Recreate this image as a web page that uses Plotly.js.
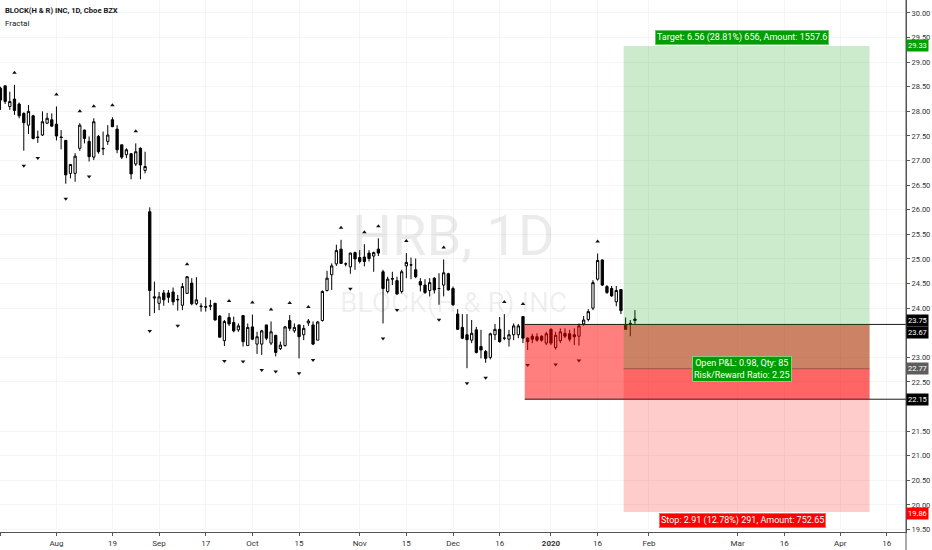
<!DOCTYPE html>
<html>
<head>
<meta charset="utf-8">
<script src="https://cdn.plot.ly/plotly-3.0.1.min.js"></script>
<style>
html,body{margin:0;padding:0;background:#fff;}
#chart{width:932px;height:550px;}
</style>
</head>
<body>
<div id="chart"></div>
<script>
// ---------- DATA ----------
const dates = [
'2019-07-16','2019-07-17','2019-07-18','2019-07-19','2019-07-22','2019-07-23','2019-07-24','2019-07-25','2019-07-26','2019-07-29','2019-07-30','2019-07-31',
'2019-08-01','2019-08-02','2019-08-05','2019-08-06','2019-08-07','2019-08-08','2019-08-09','2019-08-12','2019-08-13','2019-08-14','2019-08-15','2019-08-16','2019-08-19','2019-08-20','2019-08-21','2019-08-22','2019-08-23','2019-08-26','2019-08-27','2019-08-28','2019-08-29','2019-08-30',
'2019-09-03','2019-09-04','2019-09-05','2019-09-06','2019-09-09','2019-09-10','2019-09-11','2019-09-12','2019-09-13','2019-09-16','2019-09-17','2019-09-18','2019-09-19','2019-09-20','2019-09-23','2019-09-24','2019-09-25','2019-09-26','2019-09-27','2019-09-30',
'2019-10-01','2019-10-02','2019-10-03','2019-10-04','2019-10-07','2019-10-08','2019-10-09','2019-10-10','2019-10-11','2019-10-14','2019-10-15','2019-10-16','2019-10-17','2019-10-18','2019-10-21','2019-10-22','2019-10-23','2019-10-24','2019-10-25','2019-10-28','2019-10-29','2019-10-30','2019-10-31',
'2019-11-01','2019-11-04','2019-11-05','2019-11-06','2019-11-07','2019-11-08','2019-11-11','2019-11-12','2019-11-13','2019-11-14','2019-11-15','2019-11-18','2019-11-19','2019-11-20','2019-11-21','2019-11-22','2019-11-25','2019-11-26','2019-11-27','2019-11-29',
'2019-12-02','2019-12-03','2019-12-04','2019-12-05','2019-12-06','2019-12-09','2019-12-10','2019-12-11','2019-12-12','2019-12-13','2019-12-16','2019-12-17','2019-12-18','2019-12-19','2019-12-20','2019-12-23','2019-12-24','2019-12-26','2019-12-27','2019-12-30','2019-12-31',
'2020-01-02','2020-01-03','2020-01-06','2020-01-07','2020-01-08','2020-01-09','2020-01-10','2020-01-13','2020-01-14','2020-01-15','2020-01-16','2020-01-17','2020-01-21','2020-01-22','2020-01-23','2020-01-24','2020-01-27','2020-01-28','2020-01-29'
];

const open = [
28.47,28.52,28.10,28.25,28.15,27.96,27.72,27.91,27.48,27.52,
27.76,27.83,27.74,27.48,27.41,26.74,26.74,27.25,27.62,27.39,
27.07,27.49,27.25,27.39,27.83,27.64,27.32,27.12,27.14,26.93,
27.25,26.80,25.96,24.23,24.10,24.31,24.31,24.33,24.18,24.06,
24.30,24.51,24.09,24.03,24.02,24.04,24.10,23.84,23.34,23.81,
23.71,23.56,23.85,23.24,23.62,23.27,23.27,23.66,23.29,23.45,
23.18,23.24,23.75,23.54,23.66,23.46,23.70,23.66,23.35,23.75,
24.36,24.68,24.90,25.20,24.90,24.84,25.13,25.03,25.04,25.12,
25.06,25.20,24.74,24.34,24.59,24.56,24.34,24.86,24.88,24.78,
24.54,24.47,24.36,24.61,24.40,24.47,24.70,24.40,23.88,23.61,
23.46,23.35,23.56,23.22,23.12,23.00,23.46,23.57,23.39,23.37,
23.46,23.46,23.83,23.39,23.43,23.42,23.43,23.29,23.57,23.20,
23.34,23.49,23.48,23.46,23.43,23.68,23.77,24.00,24.59,24.98,
24.44,24.40,24.13,24.38,23.66,23.68,23.78
];
const high = [
28.50,28.52,28.40,28.54,28.18,27.98,28.13,27.93,27.61,28.00,
27.97,27.96,28.10,27.62,27.42,26.93,27.15,27.76,27.63,27.49,
27.86,27.52,27.59,27.72,27.88,27.72,27.33,27.25,27.15,27.35,
27.27,27.18,26.05,24.54,24.33,24.37,24.37,24.42,24.27,24.51,
24.65,24.61,24.63,24.10,24.22,24.17,24.10,23.86,23.76,23.90,
23.83,23.69,23.85,23.69,23.87,23.52,23.56,23.66,23.73,23.45,
23.32,23.64,23.86,23.69,23.66,23.66,23.78,23.73,23.74,24.36,
24.76,24.91,25.29,25.39,24.93,25.13,25.15,25.18,25.30,25.18,
25.15,25.42,24.78,24.64,24.74,24.64,24.78,25.12,25.03,25.01,
24.61,24.59,24.61,24.63,24.71,24.99,24.72,24.44,23.98,23.88,
23.88,23.76,23.62,23.56,23.15,23.50,23.68,23.82,23.88,23.56,
23.69,23.68,23.84,23.41,23.48,23.49,23.45,23.52,23.59,23.52,
23.59,23.59,23.56,23.59,23.69,23.84,23.98,24.57,25.11,24.99,
24.47,24.45,24.45,24.38,23.81,23.76,23.96
];
const low = [
28.03,28.15,28.03,27.93,27.86,27.20,27.54,27.43,27.36,27.50,
27.74,27.69,27.41,27.23,26.53,26.64,26.57,27.20,27.35,26.98,
27.01,27.14,27.11,27.32,27.68,27.15,27.03,27.05,26.62,26.89,
26.62,26.74,23.84,23.90,23.96,24.05,24.11,24.06,23.95,23.96,
24.29,24.06,24.06,23.93,23.93,23.96,23.75,23.41,23.23,23.64,
23.51,23.52,23.22,23.24,23.35,23.07,23.05,23.35,23.25,23.02,
23.15,23.22,23.54,23.50,22.98,23.35,23.64,23.25,23.35,23.73,
24.34,24.37,24.86,24.90,24.85,24.70,24.78,24.91,24.85,24.95,
24.74,25.06,23.69,24.30,24.47,24.27,24.30,24.61,24.59,24.61,
24.34,24.29,24.24,24.30,24.07,24.24,24.36,24.05,23.56,23.37,
22.78,23.29,23.08,22.98,22.89,22.96,23.35,23.30,23.35,23.22,
23.35,23.39,23.29,23.15,23.29,23.32,23.32,23.25,23.25,23.16,
23.29,23.39,23.32,23.25,23.24,23.64,23.73,23.96,24.56,24.45,
24.29,24.23,24.04,23.88,23.56,23.43,23.68
];
const close = [
28.23,28.20,28.20,28.02,27.91,27.77,28.00,27.45,27.47,27.79,
27.86,27.70,27.50,27.47,26.71,26.92,27.09,27.72,27.45,27.08,
27.79,27.18,27.24,27.52,27.69,27.22,27.07,27.22,26.73,27.18,
26.91,26.88,24.36,24.21,24.23,24.17,24.22,24.13,24.17,24.44,
24.64,24.09,24.17,24.04,24.03,24.05,23.76,23.41,23.73,23.68,
23.54,23.64,23.32,23.61,23.37,23.42,23.54,23.39,23.52,23.10,
23.25,23.62,23.59,23.61,23.42,23.59,23.74,23.27,23.72,24.34,
24.61,24.86,25.17,24.91,24.90,25.12,25.00,24.95,24.95,25.01,
25.13,25.12,24.40,24.59,24.60,24.29,24.74,24.93,24.88,24.64,
24.47,24.32,24.52,24.37,24.40,24.72,24.37,24.07,23.57,23.39,
23.36,23.49,23.10,23.15,22.98,23.48,23.57,23.32,23.39,23.46,
23.64,23.64,23.39,23.32,23.37,23.35,23.35,23.48,23.29,23.45,
23.52,23.43,23.37,23.42,23.64,23.76,23.93,24.52,24.97,24.47,
24.32,24.25,24.36,23.95,23.57,23.69,23.75
];

// Williams fractal bars (indices into the series)
const fractalUp   = [3,12,17,20,24,29,40,49,54,58,62,66,73,78,81,87,95,108,112,128];
const fractalDown = [5,8,14,19,32,38,48,52,56,59,64,67,75,82,85,94,100,104,113,119,124];

// x-axis tick labels
const tickDates  = ['2019-07-16','2019-08-01','2019-08-19','2019-09-03','2019-09-17','2019-10-01','2019-10-15','2019-11-01','2019-11-15','2019-12-02','2019-12-16','2020-01-02','2020-01-16','2020-02-03','2020-03-02','2020-03-16','2020-04-01','2020-04-16'];
const tickLabels = ['16','Aug','19','Sep','17','Oct','15','Nov','15','Dec','16','<b>2020</b>','16','Feb','Mar','16','Apr','16'];

// price scale ticks shown (23.50 and 22.00 sit under the price labels)
const priceTicks = [30.0,29.5,29.0,28.5,28.0,27.5,27.0,26.5,26.0,25.5,25.0,24.5,24.0,23.0,22.5,21.5,21.0,20.5,20.0,19.5];

const holidays = ['2019-09-02','2019-11-28','2019-12-25','2020-01-01','2020-01-20','2020-02-17','2020-04-10'];

// Long position tool
const entryPrice  = 22.77;
const targetPrice = 29.33;
const stopPrice   = 19.86;
const positionStart = '2020-01-24 14:00';
const positionEnd   = '2020-04-09 07:00';
const positionMid   = '2020-03-03 00:00';
const targetText = 'Target: 6.56 (28.81%) 656, Amount: 1557.6';
const stopText   = 'Stop: 2.91 (12.78%) 291, Amount: 752.65';
const pnlText    = 'Open P&amp;L: 0.98, Qty: 85<br>Risk/Reward Ratio: 2.25';

// Red rectangle zone
const zoneStart = '2019-12-23 09:00';
const zoneTop = 23.67;
const zoneBottom = 22.15;

// price labels on the right scale
const axisLabels = [
  {price: 29.33, color: '#00a000', shift: 0},
  {price: 23.75, color: '#000000', shift: 0},
  {price: 23.67, color: '#000000', shift: -8},
  {price: 22.77, color: '#5d5d5d', shift: 0},
  {price: 22.15, color: '#000000', shift: 0},
  {price: 19.86, color: '#ff0000', shift: -2}
];

// ---------- LAYOUT ----------
const xRange = ['2019-07-15 21:36', '2020-04-22 02:24'];
const yRange = [19.451, 30.264];
const plotH = 532;
const pxPerUnit = plotH / (yRange[1] - yRange[0]);
const FONT = "Roboto, 'Liberation Sans', Arial, sans-serif";

const candles = {
  type: 'candlestick',
  x: dates, open: open, high: high, low: low, close: close,
  increasing: {line: {color: '#000', width: 1}, fillcolor: '#ffffff'},
  decreasing: {line: {color: '#000', width: 1}, fillcolor: '#000000'},
  whiskerwidth: 0,
  width: 0.62 * 86400000,
  hoverinfo: 'skip',
  showlegend: false
};

const upTrace = {
  type: 'scatter', mode: 'markers',
  x: fractalUp.map(i => dates[i]),
  y: fractalUp.map(i => high[i] + 12 / pxPerUnit),
  marker: {symbol: 'triangle-up', size: 4, color: '#111'},
  hoverinfo: 'skip', showlegend: false
};
const downTrace = {
  type: 'scatter', mode: 'markers',
  x: fractalDown.map(i => dates[i]),
  y: fractalDown.map(i => low[i] - 15 / pxPerUnit),
  marker: {symbol: 'triangle-down', size: 4, color: '#111'},
  hoverinfo: 'skip', showlegend: false
};

const shapes = [
  {type:'rect', xref:'x', yref:'y', x0: zoneStart, x1: positionEnd, y0: zoneBottom, y1: zoneTop,
   fillcolor:'rgba(255,0,0,0.5)', line:{width:0}, layer:'above'},
  {type:'line', xref:'x', yref:'y', x0: zoneStart, x1: xRange[1], y0: zoneTop, y1: zoneTop,
   line:{color:'#1a1a1a', width:1}, layer:'above'},
  {type:'line', xref:'x', yref:'y', x0: zoneStart, x1: xRange[1], y0: zoneBottom, y1: zoneBottom,
   line:{color:'#1a1a1a', width:1}, layer:'above'},
  {type:'rect', xref:'x', yref:'y', x0: positionStart, x1: positionEnd, y0: entryPrice, y1: targetPrice,
   fillcolor:'rgba(0,150,0,0.2)', line:{width:0}, layer:'above'},
  {type:'rect', xref:'x', yref:'y', x0: positionStart, x1: positionEnd, y0: stopPrice, y1: entryPrice,
   fillcolor:'rgba(255,0,0,0.2)', line:{width:0}, layer:'above'},
  {type:'line', xref:'x', yref:'y', x0: positionStart, x1: positionEnd, y0: entryPrice, y1: entryPrice,
   line:{color:'rgba(110,60,50,0.55)', width:1}, layer:'above'},
  {type:'line', xref:'paper', yref:'paper', x0: 1, x1: 1, y0: -0.04, y1: 1,
   line:{color:'#555', width:1}, layer:'above'}
];

const annotations = [
  {xref:'paper', yref:'paper', x:0.5, y:0.556, text:'HRB, 1D', showarrow:false,
   font:{family:"Roboto, sans-serif", size:56, color:'rgba(0,0,0,0.08)'}},
  {xref:'paper', yref:'paper', x:0.5, y:0.432, text:'BLOCK(H &amp; R) INC', showarrow:false,
   font:{family:"Roboto, sans-serif", size:28, color:'rgba(0,0,0,0.08)'}},
  {xref:'paper', yref:'paper', x:0, y:1, xanchor:'left', yanchor:'top', xshift:3, yshift:-4,
   text:'<b>BLOCK(H &amp; R) INC, 1D, Cboe BZX</b>', showarrow:false, align:'left',
   font:{family:FONT, size:7.6, color:'#131722'}},
  {xref:'paper', yref:'paper', x:0, y:1, xanchor:'left', yanchor:'top', xshift:3, yshift:-17,
   text:'Fractal', showarrow:false, align:'left',
   font:{family:FONT, size:8, color:'#131722'}},
  {xref:'x', yref:'y', x: positionMid, y: targetPrice, yanchor:'bottom', yshift:1,
   text: targetText, showarrow:false, bgcolor:'#009e00', bordercolor:'#66c466', borderwidth:1, borderpad:1,
   font:{family:FONT, size:9, color:'#fff'}},
  {xref:'x', yref:'y', x: positionMid, y: stopPrice, yanchor:'top', yshift:-1,
   text: stopText, showarrow:false, bgcolor:'#ff0000', bordercolor:'#ff6666', borderwidth:1, borderpad:1,
   font:{family:FONT, size:9, color:'#fff'}},
  {xref:'x', yref:'y', x: positionMid, y: entryPrice, yanchor:'middle',
   text: pnlText, showarrow:false, bgcolor:'#009e00', bordercolor:'#7fd07f', borderwidth:1, borderpad:1,
   font:{family:FONT, size:9, color:'#fff'}}
];

axisLabels.forEach(l => {
  annotations.push({xref:'paper', yref:'y', x:1, y:l.price, xanchor:'left', yanchor:'middle', yshift:l.shift,
    text: l.price.toFixed(2), showarrow:false, bgcolor:l.color, borderpad:1,
    font:{family:FONT, size:7.5, color:'#fff'}});
});

const layout = {
  width: 932, height: 550,
  margin: {l:0, r:26, t:0, b:18, pad:0},
  paper_bgcolor:'#ffffff', plot_bgcolor:'#ffffff',
  showlegend:false,
  font:{family:FONT, size:8, color:'#333'},
  xaxis:{
    type:'date', range:xRange,
    rangebreaks:[{bounds:['sat','mon']}, {values: holidays}],
    rangeslider:{visible:false},
    tickvals: tickDates, ticktext: tickLabels,
    ticks:'outside', ticklen:3, tickcolor:'#555',
    showline:true, linecolor:'#555', linewidth:1,
    showgrid:true, gridcolor:'#f5f5f5', zeroline:false,
    tickfont:{family:FONT, size:8, color:'#333'}, fixedrange:true
  },
  yaxis:{
    side:'right', range:yRange, tickvals: priceTicks, tickformat:'.2f',
    ticks:'outside', ticklen:3, tickcolor:'#555',
    showline:true, linecolor:'#555', linewidth:1,
    showgrid:true, gridcolor:'#f5f5f5', zeroline:false,
    tickfont:{family:FONT, size:7.5, color:'#333'}, fixedrange:true
  },
  shapes: shapes,
  annotations: annotations
};

Plotly.newPlot('chart', [candles, upTrace, downTrace], layout, {staticPlot:true, displayModeBar:false});
</script>
</body>
</html>
